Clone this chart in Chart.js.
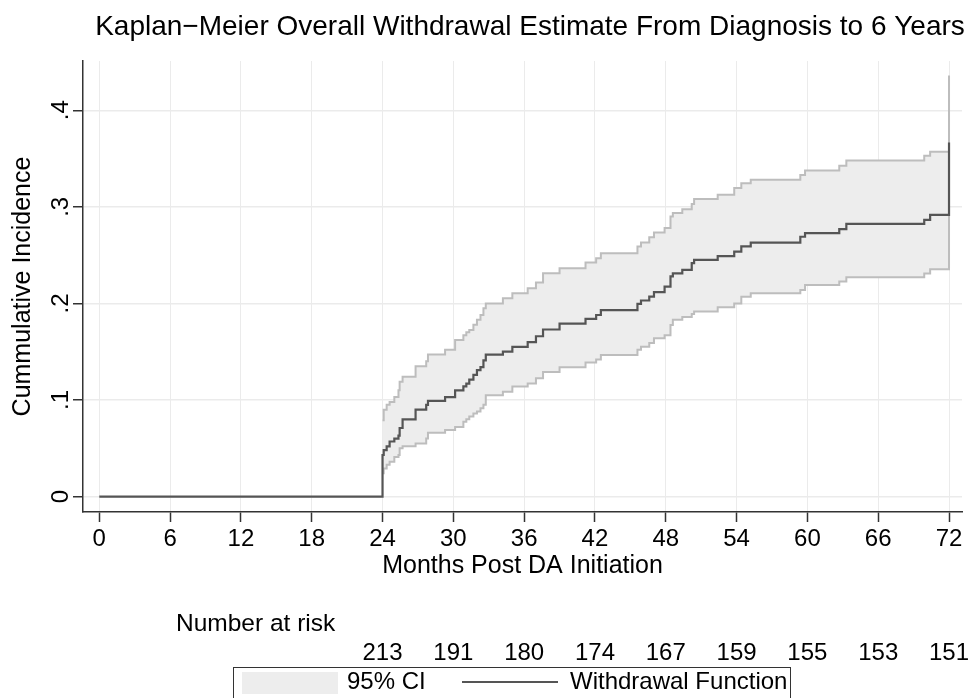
<!DOCTYPE html>
<html>
<head>
<meta charset="utf-8">
<script src="https://cdn.jsdelivr.net/npm/chart.js@4.4.0/dist/chart.umd.min.js"></script>
<style>
    html, body { margin: 0; padding: 0; background: #fff; }
    #wrap { width: 968px; height: 698px; }
</style>
</head>
<body>
<div id="wrap"><canvas id="kmChart" width="968" height="698"></canvas></div>
<script>
// step times (months) and Kaplan-Meier values
const stepMonths = [0, 24.0, 24.1, 24.35, 24.6, 25.0, 25.35, 25.45, 25.7, 26.8, 27.7, 27.85, 29.3, 30.15,
    30.85, 31.1, 31.35, 31.7, 32.0, 32.3, 32.55, 32.75, 34.2, 35.0, 36.3, 37.0, 37.6, 39.0, 41.2,
    42.1, 42.5, 45.6, 45.9, 46.6, 47.0, 47.9, 48.4, 48.6, 49.4, 50.2, 50.4, 52.4, 53.8, 54.4, 55.2,
    59.4, 59.8, 62.7, 63.3, 69.9, 70.4, 72.0]
const withdrawal = [0, 0.043, 0.048, 0.052, 0.057, 0.060, 0.063, 0.071, 0.080, 0.090, 0.095, 0.099, 0.103, 0.110,
    0.114, 0.117, 0.121, 0.126, 0.131, 0.134, 0.141, 0.147, 0.150, 0.155, 0.160, 0.166, 0.173, 0.179, 0.184,
    0.188, 0.193, 0.1995, 0.203, 0.207, 0.2116, 0.2174, 0.228, 0.231, 0.2347, 0.2417, 0.245, 0.249, 0.2537, 0.259, 0.263,
    0.269, 0.2727, 0.277, 0.2824, 0.2865, 0.2917, 0.3666]
const lowerCI = [null, 0.024, 0.029, 0.033, 0.036, 0.041, 0.043, 0.050, 0.052, 0.055, 0.060, 0.066, 0.069, 0.072,
    0.0775, 0.080, 0.083, 0.086, 0.088, 0.0914, 0.095, 0.105, 0.1086, 0.114, 0.117, 0.1225, 0.129, 0.134, 0.1387,
    0.142, 0.1466, 0.152, 0.155, 0.159, 0.164, 0.167, 0.1777, 0.183, 0.186, 0.189, 0.1915, 0.196, 0.200, 0.207, 0.2106,
    0.214, 0.219, 0.2226, 0.227, 0.231, 0.2354, 0.30]
const upperCI = [null, 0.079, 0.090, 0.095, 0.098, 0.103, 0.110, 0.119, 0.124, 0.135, 0.140, 0.147, 0.152, 0.162,
    0.167, 0.170, 0.1725, 0.178, 0.183, 0.188, 0.195, 0.200, 0.2054, 0.2106, 0.2157, 0.2216, 0.2313, 0.2365, 0.2423,
    0.2468, 0.252, 0.259, 0.263, 0.2686, 0.2734, 0.278, 0.290, 0.2935, 0.2976, 0.303, 0.308, 0.3124, 0.3194, 0.3245, 0.328,
    0.333, 0.3376, 0.3425, 0.348, 0.3528, 0.357, 0.436]

const riskMonths = [24, 30, 36, 42, 48, 54, 60, 66, 72]
const riskCounts = [213, 191, 180, 174, 167, 159, 155, 153, 151]

const chartTitle = 'Kaplan\u2212Meier Overall Withdrawal Estimate From Diagnosis to 6 Years'
const fontFamily = '"Liberation Sans", Arial, Helvetica, sans-serif'
const bandColor = '#ededed'
const ciLineColor = '#bdbdbd'
const curveColor = '#555555'
const axisColor = '#333333'

function toPoints(values){
    return stepMonths.map((m, i) => ({x: m, y: values[i]})).filter(p => p.y !== null)
}

function formatY(value){
    if(Math.abs(value) < 1e-9) return '0'
    return value.toFixed(1).replace(/^0/, '')
}

// title, y tick labels (rotated, Stata style), number at risk table and legend
const extrasPlugin = {
    id: 'kmExtras',
    afterDraw(chart){
        const {ctx, scales: {x, y}} = chart
        ctx.save()
        ctx.fillStyle = '#000'
        ctx.textBaseline = 'middle'

        ctx.font = `28px ${fontFamily}`
        ctx.textAlign = 'center'
        ctx.fillText(chartTitle, 530, 27)

        ctx.font = `24px ${fontFamily}`
        y.ticks.forEach(t => {
            ctx.save()
            ctx.translate(61, y.getPixelForValue(t.value))
            ctx.rotate(-Math.PI / 2)
            ctx.fillText(formatY(t.value), 0, 0)
            ctx.restore()
        })

        ctx.font = `24.5px ${fontFamily}`
        ctx.textAlign = 'left'
        ctx.fillText('Number at risk', 176, 624)
        ctx.font = `24px ${fontFamily}`
        ctx.textAlign = 'center'
        riskMonths.forEach((m, i) => ctx.fillText(String(riskCounts[i]), x.getPixelForValue(m), 653))

        // legend box
        ctx.strokeStyle = axisColor
        ctx.lineWidth = 1
        ctx.strokeRect(233.5, 667.5, 557, 40)
        ctx.fillStyle = bandColor
        ctx.fillRect(242, 672, 96, 22)
        ctx.strokeStyle = curveColor
        ctx.lineWidth = 2
        ctx.beginPath()
        ctx.moveTo(462, 682)
        ctx.lineTo(558, 682)
        ctx.stroke()
        ctx.fillStyle = '#000'
        ctx.textAlign = 'left'
        ctx.fillText('95% CI', 347, 682)
        ctx.fillText('Withdrawal Function', 570, 682)
        ctx.restore()
    }
}

new Chart(document.getElementById('kmChart').getContext('2d'), {
    type: 'line',
    data: {
        datasets: [
            {
                label: 'Withdrawal Function',
                data: toPoints(withdrawal),
                stepped: true,
                borderColor: curveColor,
                borderWidth: 2.2,
                pointRadius: 0,
                fill: false,
                order: 0
            },
            {
                label: 'Upper 95% CI',
                data: toPoints(upperCI),
                stepped: true,
                borderColor: ciLineColor,
                backgroundColor: bandColor,
                borderWidth: 2,
                pointRadius: 0,
                fill: '+1',
                order: 2
            },
            {
                label: 'Lower 95% CI',
                data: toPoints(lowerCI),
                stepped: true,
                borderColor: ciLineColor,
                borderWidth: 2,
                pointRadius: 0,
                fill: false,
                order: 1
            }
        ]
    },
    options: {
        responsive: false,
        animation: false,
        devicePixelRatio: 1,
        layout: {padding: {left: 0, right: 6, top: 61, bottom: 0}},
        scales: {
            x: {
                type: 'linear',
                min: -1.38,
                max: 73.1,
                ticks: {
                    stepSize: 6,
                    includeBounds: false,
                    color: '#000',
                    padding: 3,
                    maxRotation: 0,
                    font: {family: fontFamily, size: 24}
                },
                grid: {
                    color: '#ebebeb',
                    lineWidth: 1,
                    tickLength: 10,
                    tickColor: axisColor,
                    tickWidth: 1.5
                },
                border: {color: axisColor, width: 1.5},
                title: {
                    display: true,
                    text: 'Months Post DA Initiation',
                    color: '#000',
                    font: {family: fontFamily, size: 25},
                    padding: {top: 0, bottom: 117}
                },
                afterFit(scale){ scale.height = 186 }
            },
            y: {
                type: 'linear',
                min: -0.016,
                max: 0.451,
                ticks: {stepSize: 0.1, includeBounds: false, display: false},
                grid: {
                    color: '#ebebeb',
                    lineWidth: 1.5,
                    tickLength: 10,
                    tickColor: axisColor,
                    tickWidth: 1.5
                },
                border: {color: axisColor, width: 1.5},
                title: {
                    display: true,
                    text: 'Cummulative Incidence',
                    color: '#000',
                    font: {family: fontFamily, size: 25},
                    padding: {top: 8, bottom: 0}
                },
                afterFit(scale){ scale.width = 83 }
            }
        },
        plugins: {
            legend: {display: false},
            tooltip: {enabled: false},
            title: {display: false}
        }
    },
    plugins: [extrasPlugin]
})
</script>
</body>
</html>
